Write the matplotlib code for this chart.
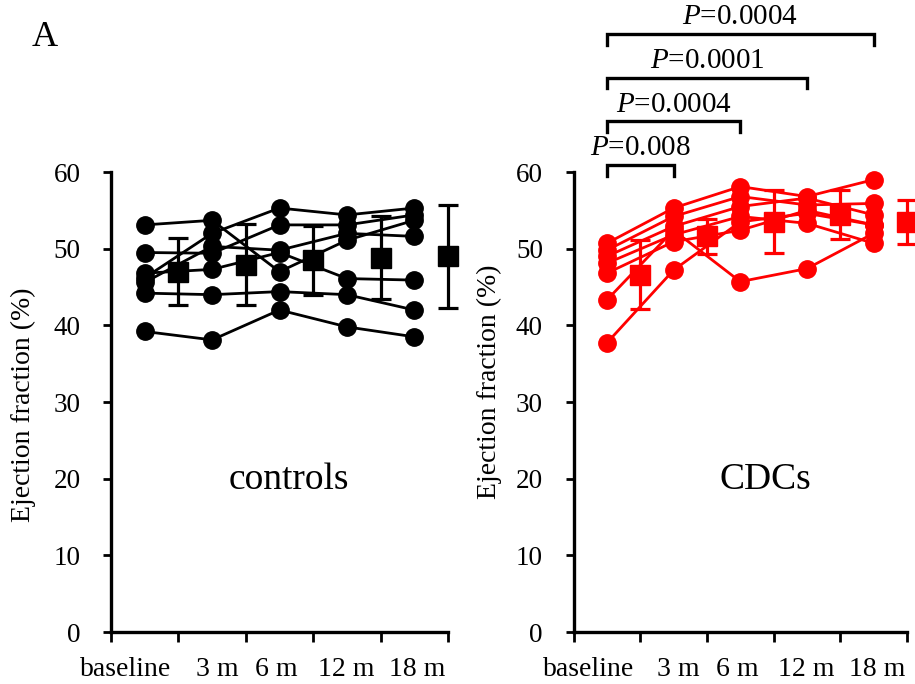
import numpy as np
import matplotlib.pyplot as plt

plt.rcParams['font.family'] = ['Liberation Serif', 'DejaVu Serif']
plt.rcParams['mathtext.fontset'] = 'custom'
plt.rcParams['mathtext.rm'] = 'Liberation Serif'
plt.rcParams['mathtext.it'] = 'Liberation Serif:italic'

timepoints = ["baseline", "3 m", "6 m", "12 m", "18 m"]

# ejection fraction (%) per animal, one row per animal
controls = [
    [53.1, 53.7, 47.0, 51.1, 53.7],
    [49.5, 49.4, 53.1, 53.1, 54.4],
    [46.2, 52.0, 55.3, 54.4, 55.3],
    [45.6, 50.3, 49.8, 52.0, 51.6],
    [44.2, 44.0, 44.4, 44.0, 42.0],
    [39.2, 38.1, 42.0, 39.8, 38.5],
    [46.8, 47.3, 49.5, 46.1, 45.9],
]
controls_mean = [47.0, 47.9, 48.5, 48.8, 49.0]
controls_sd = [4.4, 5.3, 4.5, 5.4, 6.7]

cdcs = [
    [37.7, 47.2, 53.5, 54.6, 53.1],
    [43.3, 52.4, 45.7, 47.4, 52.0],
    [50.7, 55.3, 58.1, 56.8, 59.0],
    [49.8, 54.2, 56.8, 55.7, 55.9],
    [49.0, 52.9, 55.5, 56.6, 54.4],
    [48.1, 51.8, 54.2, 53.3, 50.7],
    [46.8, 50.9, 52.4, 55.0, 53.1],
]
cdcs_mean = [46.6, 51.6, 53.5, 54.4, 53.5]
cdcs_sd = [4.5, 2.3, 4.1, 3.2, 2.9]

# comparisons against baseline in the CDC group
p_against = [1, 2, 3, 4]
p_values = ["0.008", "0.0004", "0.0001", "0.0004"]

LABEL_X = [0.22, 1.57, 2.46, 3.49, 4.55]
W, H = 915, 684


def draw_panel(ax, animals, mean, sd, color, name, name_x):
    x_ind = np.arange(len(timepoints)) + 0.5
    x_mean = np.arange(len(timepoints)) + 1
    for row in animals:
        ax.plot(x_ind, row, '-o', color=color, lw=2.0, ms=12.5, clip_on=False, zorder=3)
    eb = ax.errorbar(x_mean, mean, yerr=sd, fmt='s', color=color, ms=14.5,
                     capsize=7.5, elinewidth=2.3, capthick=2.3, zorder=4)
    for art in eb.get_children():
        art.set_clip_on(False)

    ax.set_xlim(0, 5)
    ax.set_ylim(0, 60)
    for side in ('top', 'right'):
        ax.spines[side].set_visible(False)
    for side in ('left', 'bottom'):
        ax.spines[side].set_linewidth(2.4)
    ax.set_yticks(range(0, 61, 10))
    ax.tick_params(axis='y', length=6, width=2, pad=16, labelsize=19.5)
    ax.set_xticks(np.arange(6), minor=True)
    ax.set_xticks(LABEL_X)
    ax.set_xticklabels(timepoints)
    ax.tick_params(axis='x', which='major', length=0, pad=18, labelsize=20)
    ax.tick_params(axis='x', which='minor', length=7, width=2)
    ax.text(name_x, 19.8, name, fontsize=27, ha='center', va='center')


fig = plt.figure(figsize=(W / 100, H / 100), dpi=100)
ax1 = fig.add_axes([111 / W, 1 - 632 / H, 337 / W, 460 / H])
ax2 = fig.add_axes([573.5 / W, 1 - 632 / H, 333.5 / W, 460 / H])

draw_panel(ax1, controls, controls_mean, controls_sd, 'black', 'controls', 2.64)
draw_panel(ax2, cdcs, cdcs_mean, cdcs_sd, '#ff0000', 'CDCs', 2.87)

fig.text(23 / W, 1 - 405 / H, "Ejection fraction (%)", rotation=90,
         ha='center', va='center', fontsize=20)
fig.text(489 / W, 1 - 382 / H, "Ejection fraction (%)", rotation=90,
         ha='center', va='center', fontsize=20)
fig.text(45 / W, 1 - 37 / H, "A", fontsize=26, ha='center', va='center')

# significance brackets above the CDC panel
for tier, (idx, p) in enumerate(zip(p_against, p_values)):
    y = 60.9 + tier * 5.7
    x0, x1 = 0.5, idx + 0.5
    ax2.plot([x0, x0, x1, x1], [y - 1.4, y, y, y - 1.4], color='black',
             lw=2.4, clip_on=False, solid_joinstyle='miter')
    ax2.text((x0 + x1) / 2, y + 0.5, f"$P$=" + p, fontsize=21,
             ha='center', va='bottom')

fig.savefig("out.png", dpi=100)
